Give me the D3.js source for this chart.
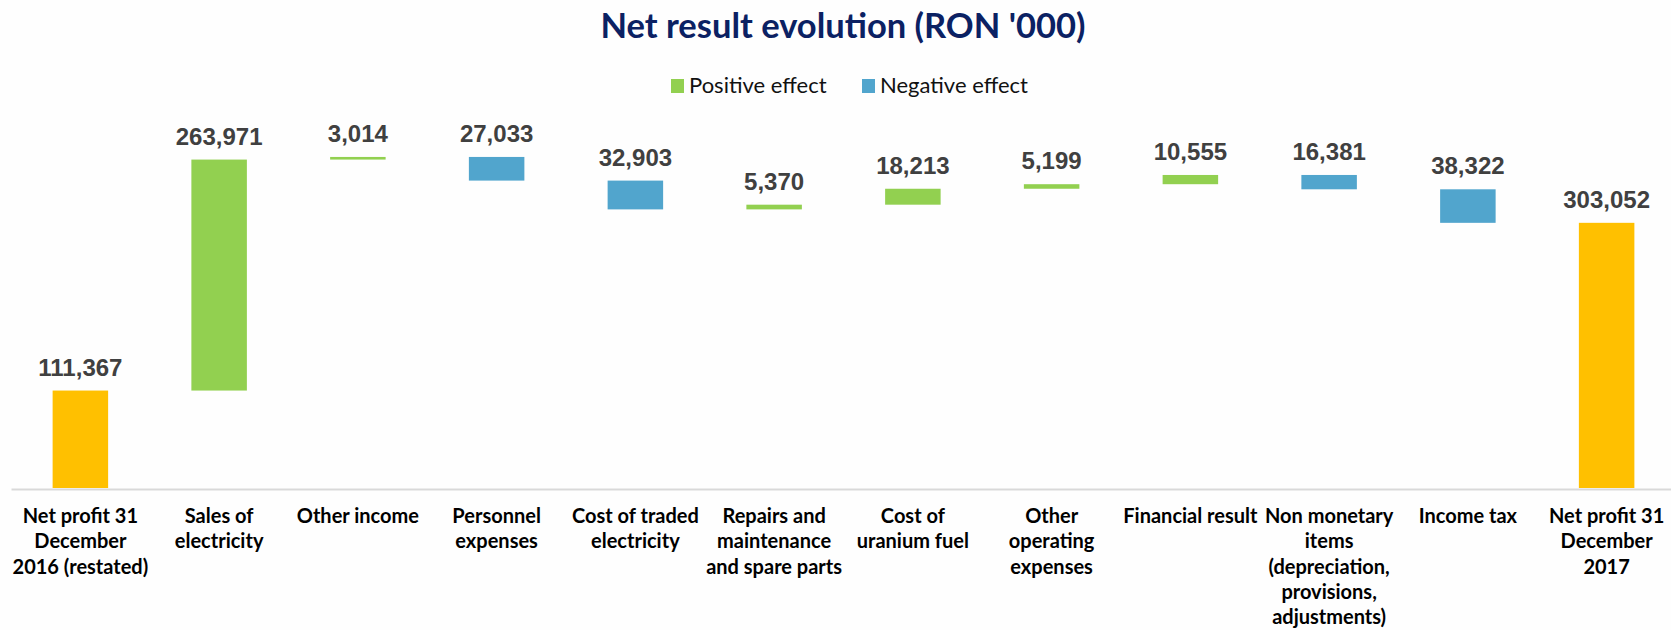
<!DOCTYPE html>
<html>
<head>
<meta charset="utf-8">
<script src="https://cdn.jsdelivr.net/npm/d3@7"></script>
<style>
  body { margin: 0; background: #fefefe; }
  svg { display: block; }
</style>
</head>
<body>
<script>
// data
var categories = [
  "Net profit 31\nDecember\n2016 (restated)",
  "Sales of\nelectricity",
  "Other income",
  "Personnel\nexpenses",
  "Cost of traded\nelectricity",
  "Repairs and\nmaintenance\nand spare parts",
  "Cost of\nuranium fuel",
  "Other\noperating\nexpenses",
  "Financial result",
  "Non monetary\nitems\n(depreciation,\nprovisions,\nadjustments)",
  "Income tax",
  "Net profit 31\nDecember\n2017"
]
var changes = [111367, 263971, 3014, -27033, -32903, 5370, 18213, 5199, 10555, -16381, -38322, 303052]
var isTotal = [true, false, false, false, false, false, false, false, false, false, false, true]
var legendLabels = ["Positive effect", "Negative effect"]
var yTicks = [0, 100000, 200000, 300000, 400000]

var drawWaterfall = function() {
  var screen = {width: 1671, height: 630}
  var margin = {top: 138, left: 11, right: -5, bottom: 142}
  var base = screen.height - margin.bottom

  // running totals -> bar start / end
  var bars = []
  var run = 0
  for (var i = 0; i < categories.length; i++) {
    var b = {cat: categories[i], value: changes[i], total: isTotal[i]}
    if (isTotal[i]) {
      b.start = 0
      b.end = changes[i]
      run = changes[i]
    } else {
      b.start = run
      run = run + changes[i]
      b.end = run
    }
    bars.push(b)
  }

  var xScale = d3.scaleBand()
    .domain(categories)
    .range([margin.left, screen.width - margin.right])
    .paddingInner(0.6)
    .paddingOuter(0.3)

  var yScale = d3.scaleLinear()
    .domain([yTicks[0], yTicks[yTicks.length - 1]])
    .range([base, margin.top])

  var colors = {total: "#FFC000", pos: "#92D050", neg: "#51A5CD"}
  var colorOf = function(d) {
    if (d.total) return colors.total
    return d.value >= 0 ? colors.pos : colors.neg
  }

  var svg = d3.select("body").append("svg")
    .attr("width", screen.width)
    .attr("height", screen.height)

  // title
  svg.append("text")
    .attr("x", 843)
    .attr("y", 38)
    .attr("text-anchor", "middle")
    .attr("font-family", "Lato, 'Open Sans', sans-serif")
    .attr("font-weight", "bold")
    .attr("font-size", 34.5)
    .attr("fill", "#0B2163")
    .text("Net result evolution (RON '000)")

  // legend
  var legendColors = [colors.pos, colors.neg]
  var legendX = [671, 862]
  var legend = svg.selectAll(".legend")
    .data(legendLabels)
    .enter()
    .append("g")
    .attr("class", "legend")
    .attr("transform", function(d, i) { return "translate(" + legendX[i] + ",79)" })
  legend.append("rect")
    .attr("width", 13)
    .attr("height", 14)
    .attr("fill", function(d, i) { return legendColors[i] })
  legend.append("text")
    .attr("x", 18)
    .attr("y", 14)
    .attr("font-family", "Lato, 'Open Sans', sans-serif")
    .attr("font-size", 22)
    .attr("fill", "#111")
    .text(function(d) { return d })

  // axis line
  var xAxis = d3.axisBottom(xScale).tickSize(0).tickFormat("")
  var axisG = svg.append("g")
    .attr("transform", "translate(0," + (base + 1) + ")")
    .call(xAxis)
  axisG.select(".domain")
    .attr("stroke", "#d9d9d9")
    .attr("stroke-width", 2)

  // bars
  svg.selectAll(".bar")
    .data(bars)
    .enter()
    .append("rect")
    .attr("class", "bar")
    .attr("x", function(d) { return xScale(d.cat) })
    .attr("width", xScale.bandwidth())
    .attr("y", function(d) { return yScale(Math.max(d.start, d.end)) })
    .attr("height", function(d) { return Math.abs(yScale(d.start) - yScale(d.end)) })
    .attr("fill", colorOf)

  // value labels
  var fmt = d3.format(",")
  svg.selectAll(".val")
    .data(bars)
    .enter()
    .append("text")
    .attr("class", "val")
    .attr("x", function(d) { return xScale(d.cat) + xScale.bandwidth() / 2 })
    .attr("y", function(d) { return yScale(Math.max(d.start, d.end)) - 15 })
    .attr("text-anchor", "middle")
    .attr("font-family", "'Liberation Sans', Arial, sans-serif")
    .attr("font-weight", "bold")
    .attr("font-size", 24)
    .attr("fill", "#404040")
    .text(function(d) { return fmt(Math.abs(d.value)) })

  // category labels
  var catText = svg.selectAll(".cat")
    .data(bars)
    .enter()
    .append("text")
    .attr("class", "cat")
    .attr("text-anchor", "middle")
    .attr("font-family", "Lato, 'Open Sans', sans-serif")
    .attr("font-weight", "bold")
    .attr("font-size", 20)
    .attr("fill", "#000")
  catText.selectAll("tspan")
    .data(function(d) {
      var cx = xScale(d.cat) + xScale.bandwidth() / 2
      return d.cat.split("\n").map(function(t) { return {t: t, x: cx} })
    })
    .enter()
    .append("tspan")
    .attr("x", function(d) { return d.x })
    .attr("y", function(d, i) { return base + 35 + i * 25.3 })
    .text(function(d) { return d.t })
}

drawWaterfall()
</script>
</body>
</html>
